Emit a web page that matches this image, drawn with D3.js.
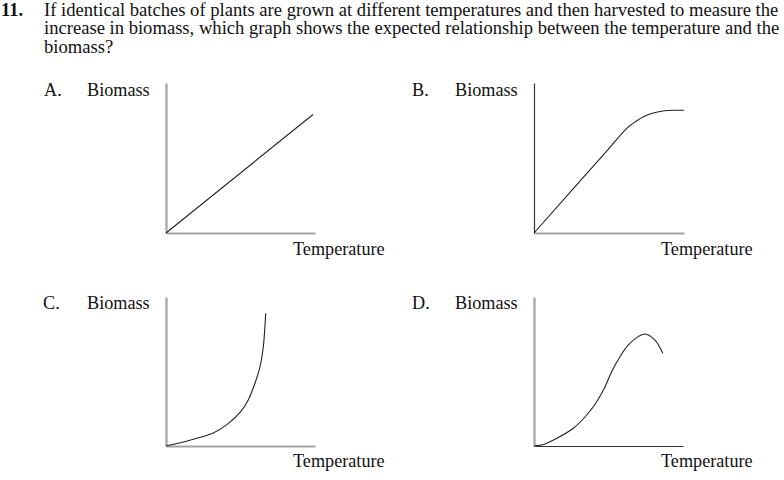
<!DOCTYPE html>
<html>
<head>
<meta charset="utf-8">
<script src="https://cdn.jsdelivr.net/npm/d3@7"></script>
<style>
  html, body { margin: 0; padding: 0; background: #fff; }
  svg { display: block; }
  text { font-family: "Liberation Serif", "Times New Roman", serif; fill: #111; }
</style>
</head>
<body>
<svg id="chart" width="784" height="480"></svg>
<script>
// ---- data ----
const questionNumber = "11.";
const questionLines = [
  "If identical batches of plants are grown at different temperatures and then harvested to measure the",
  "increase in biomass, which graph shows the expected relationship between the temperature and the",
  "biomass?"
];
const panelLetters = ["A.", "B.", "C.", "D."];
const yLabel = "Biomass";
const xLabel = "Temperature";

// curve values (temperature, biomass) on 0-10 scales
const seriesA = [[0, 0], [9.8, 7.9]];
const seriesB = [[0, 0], [4.95, 5.58], [6.2, 6.99], [6.8, 7.45], [7.3, 7.75], [7.9, 7.98], [8.6, 8.13], [9.3, 8.18], [10, 8.18]];
const seriesC = [[0, 0], [0.9, 0.2], [1.83, 0.45], [3.17, 0.88], [4.07, 1.42], [4.97, 2.25], [5.52, 3.09], [5.97, 4.21], [6.31, 5.32], [6.53, 6.66], [6.64, 8.01], [6.69, 8.91]];
const seriesD = [[0, 0], [0.7, 0.12], [1.41, 0.45], [2.64, 1.19], [3.54, 2.08], [4.21, 2.97], [4.77, 3.98], [5.21, 4.99], [5.77, 5.99], [6.33, 6.78], [7.0, 7.34], [7.45, 7.52], [8.12, 7.11], [8.64, 6.22]];

// ---- layout ----
const svg = d3.select("#chart");
svg.append("rect").attr("width", 784).attr("height", 480).attr("fill", "#fff");

const qFont = 18.6;
const q = svg.append("g");
q.append("text").attr("x", 1).attr("y", 15.5)
  .attr("font-weight", "bold").attr("font-size", qFont).text(questionNumber);
q.selectAll("text.line").data(questionLines).join("text")
  .attr("class", "line")
  .attr("x", 44)
  .attr("y", (d, i) => 15.5 + i * 18.5)
  .attr("font-size", qFont)
  .text(d => d);

const panels = [
  { letter: panelLetters[0], data: seriesA, ox: 166, oy: 233, top: 83, right: 315, lx: 44, bx: 87, tx: 293, lb: 96, tb: 255, yDark: false, xDark: false, curve: d3.curveLinear },
  { letter: panelLetters[1], data: seriesB, ox: 534, oy: 233, top: 83, right: 684, lx: 412, bx: 455, tx: 661, lb: 96, tb: 255, yDark: true, xDark: false, curve: d3.curveCatmullRom.alpha(0.5) },
  { letter: panelLetters[2], data: seriesC, ox: 166, oy: 446, top: 297, right: 315, lx: 43, bx: 87, tx: 293, lb: 309, tb: 467, yDark: false, xDark: false, curve: d3.curveCatmullRom.alpha(0.5) },
  { letter: panelLetters[3], data: seriesD, ox: 534, oy: 446, top: 297, right: 683, lx: 412, bx: 455, tx: 661, lb: 309, tb: 467, yDark: false, xDark: true, curve: d3.curveCatmullRom.alpha(0.5) }
];

const greyAxis = "#a3a3a3";
const darkAxis = "#333";
const labelFont = 18.2;

panels.forEach(p => {
  const x = d3.scaleLinear().domain([0, 10]).range([p.ox, p.ox + (p.oy - p.top)]);
  const y = d3.scaleLinear().domain([0, 10]).range([p.oy, p.top]);
  const g = svg.append("g");

  // axes (no ticks)
  const xr = d3.scaleLinear().domain([0, 10]).range([p.ox, p.right]);
  const xg = g.append("g").attr("transform", `translate(0,${p.oy})`).call(d3.axisBottom(xr).ticks(0).tickSize(0).tickSizeOuter(0));
  xg.select(".domain").attr("stroke", p.xDark ? darkAxis : greyAxis).attr("stroke-width", p.xDark ? 1.2 : 2.2);
  const yg = g.append("g").attr("transform", `translate(${p.ox},0)`).call(d3.axisLeft(y).ticks(0).tickSize(0).tickSizeOuter(0));
  yg.select(".domain").attr("stroke", p.yDark ? darkAxis : greyAxis).attr("stroke-width", p.yDark ? 1.2 : 2.2);

  // curve
  const line = d3.line().x(d => x(d[0])).y(d => y(d[1])).curve(p.curve);
  g.append("path").datum(p.data)
    .attr("d", line)
    .attr("fill", "none")
    .attr("stroke", "#222")
    .attr("stroke-width", 1.1);

  // labels
  g.append("text").attr("x", p.lx).attr("y", p.lb).attr("font-size", labelFont).text(p.letter);
  g.append("text").attr("x", p.bx).attr("y", p.lb).attr("font-size", labelFont).text(yLabel);
  g.append("text").attr("x", p.tx).attr("y", p.tb).attr("font-size", labelFont).text(xLabel);
});
</script>
</body>
</html>
